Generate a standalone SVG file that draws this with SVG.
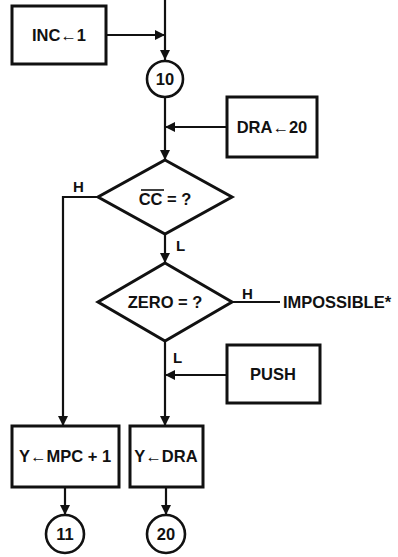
<svg xmlns="http://www.w3.org/2000/svg" width="398" height="557" viewBox="0 0 398 557">
<style>
.box{fill:#fff;stroke:#111;stroke-width:3}
.dia{fill:#fff;stroke:#111;stroke-width:3}
.circ{fill:#fff;stroke:#111;stroke-width:2.6}
.ln{fill:none;stroke:#111;stroke-width:2.2}
.t{font-family:"Liberation Sans",Arial,sans-serif;font-weight:bold;font-size:16.5px;fill:#111;text-anchor:middle}
.tl{font-family:"Liberation Sans",Arial,sans-serif;font-weight:bold;font-size:15px;fill:#111}
</style>
<defs>
<marker id="ah" viewBox="0 0 10 10" refX="10" refY="5" markerWidth="10" markerHeight="10" markerUnits="userSpaceOnUse" orient="auto">
<path d="M0,0 L10,5 L0,10 Z" fill="#111"/>
</marker>
</defs>
<rect width="398" height="557" fill="#fff"/>
<g id="connectors">
<line class="ln" x1="165" y1="0" x2="165" y2="60" marker-end="url(#ah)"/>
<line class="ln" x1="106" y1="35" x2="165" y2="35" marker-end="url(#ah)"/>
<line class="ln" x1="165" y1="97" x2="165" y2="160" marker-end="url(#ah)"/>
<line class="ln" x1="227" y1="127" x2="165" y2="127" marker-end="url(#ah)"/>
<polyline class="ln" points="98,197 63,197 63,426" marker-end="url(#ah)"/>
<line class="ln" x1="165" y1="234" x2="165" y2="263" marker-end="url(#ah)"/>
<line class="ln" x1="232" y1="302" x2="280" y2="302"/>
<line class="ln" x1="165" y1="341" x2="165" y2="426" marker-end="url(#ah)"/>
<line class="ln" x1="227" y1="375" x2="165" y2="375" marker-end="url(#ah)"/>
<line class="ln" x1="65" y1="487" x2="65" y2="515" marker-end="url(#ah)"/>
<line class="ln" x1="166" y1="487" x2="166" y2="515" marker-end="url(#ah)"/>
<text class="tl" x="73" y="192">H</text>
<text class="tl" x="176" y="251">L</text>
<text class="tl" x="242" y="299">H</text>
<text class="tl" x="173" y="363">L</text>
</g>
<g id="inc">
<rect class="box" x="12" y="6" width="94" height="58"/>
<text class="t" x="59" y="41">INC←1</text>
</g>
<g id="c10">
<circle class="circ" cx="165" cy="79" r="18"/>
<text class="t" x="165" y="85">10</text>
</g>
<g id="dra">
<rect class="box" x="227" y="97" width="90" height="60"/>
<text class="t" x="272" y="133">DRA←20</text>
</g>
<g id="cc">
<polygon class="dia" points="165,160 232,197 165,234 98,197"/>
<text class="t" x="165" y="205">CC = ?</text>
<line x1="141" y1="190" x2="164" y2="190" stroke="#111" stroke-width="1.6"/>
</g>
<g id="zero">
<polygon class="dia" points="165,263 232,302 165,341 98,302"/>
<text class="t" x="165" y="308">ZERO = ?</text>
</g>
<g id="impossible">
<text class="t" x="337" y="308">IMPOSSIBLE*</text>
</g>
<g id="push">
<rect class="box" x="227" y="345" width="93" height="58"/>
<text class="t" x="273" y="380">PUSH</text>
</g>
<g id="ympc">
<rect class="box" x="12" y="426" width="107" height="61"/>
<text class="t" x="65" y="462">Y←MPC + 1</text>
</g>
<g id="ydra">
<rect class="box" x="130" y="426" width="73" height="61"/>
<text class="t" x="166" y="462">Y←DRA</text>
</g>
<g id="c11">
<circle class="circ" cx="65" cy="534" r="19"/>
<text class="t" x="65" y="540">11</text>
</g>
<g id="c20">
<circle class="circ" cx="166" cy="534" r="19"/>
<text class="t" x="166" y="540">20</text>
</g>
</svg>
